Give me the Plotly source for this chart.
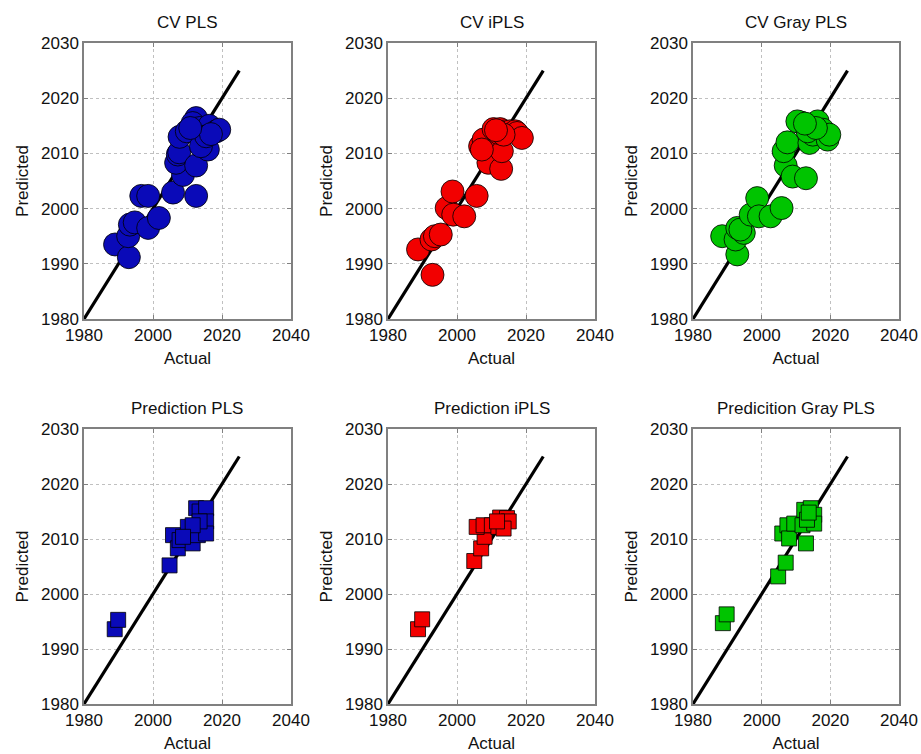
import plotly.graph_objects as go

titles = ["CV PLS", "CV iPLS", "CV Gray PLS", "Prediction PLS", "Prediction iPLS", "Predicition Gray PLS"]
x_ticks = [1980, 2000, 2020, 2040]
y_ticks = [1980, 1990, 2000, 2010, 2020, 2030]
ideal_line = [1980, 2025]

cv_pls_actual = [1989, 1993, 1992.8, 1993.3, 1994.7, 1998.6, 2001.7, 1996.6, 1998.6, 2005.8, 2012.5, 2008.7,
                 2006.7, 2007.2, 2007.6, 2012.5, 2007.7, 2009.8, 2012.5, 2011.5, 2013.5, 2015.9, 2013.9, 2016.3,
                 2018.3, 2019.2, 2015.4, 2016.8, 2010.8]
cv_pls_pred = [1993.5, 1991.2, 1995.0, 1997.1, 1997.5, 1996.5, 1998.3, 2002.3, 2002.3, 2002.9, 2002.3, 2006.1,
               2008.3, 2009.8, 2010.2, 2007.8, 2013.0, 2014.0, 2016.4, 2015.5, 2014.6, 2010.7, 2011.3, 2015.0,
               2014.0, 2014.3, 2013.1, 2013.5, 2014.6]

cv_ipls_actual = [1988.7, 1992.9, 1992.6, 1993.6, 1995.3, 1997.0, 1998.7, 1998.9, 2002.1, 2005.7, 2009.1, 2012.8,
                  2013.0, 2006.7, 2007.7, 2007.2, 2010.6, 2012.5, 2014.0, 2015.4, 2016.9, 2017.4, 2018.8, 2012.0,
                  2013.5, 2011.3]
cv_ipls_pred = [1992.6, 1988.0, 1994.4, 1995.0, 1995.3, 2000.1, 2003.1, 1998.9, 1998.6, 2002.3, 2008.3, 2007.2,
                2010.4, 2011.3, 2012.5, 2010.7, 2014.4, 2014.4, 2014.0, 2014.0, 2014.0, 2013.7, 2012.8, 2013.7,
                2013.4, 2014.2]

cv_gray_actual = [1988.5, 1992.9, 1992.4, 1992.9, 1994.8, 1993.8, 1996.8, 1998.7, 1999.2, 2002.6, 2005.8, 2007.0,
                  2006.4, 2007.5, 2009.0, 2012.9, 2011.4, 2010.4, 2013.9, 2014.9, 2016.3, 2017.8, 2019.2, 2019.7,
                  2013.4, 2015.8, 2012.6]
cv_gray_pred = [1995.0, 1991.7, 1994.4, 1996.5, 1995.6, 1996.2, 1998.9, 2001.9, 1998.6, 1998.6, 2000.1, 2007.8,
                2010.4, 2012.0, 2005.8, 2005.5, 2015.6, 2015.8, 2011.9, 2013.4, 2015.8, 2014.3, 2012.5, 2013.4,
                2014.0, 2014.6, 2015.4]

pr_pls_actual = [1988.9, 1989.9, 2004.8, 2005.8, 2007.2, 2007.7, 2010.1, 2011.5, 2012.5, 2013.0, 2013.5, 2015.4,
                 2015.4, 2015.4, 2013.5, 2011.5, 2008.7]
pr_pls_pred = [1993.6, 1995.3, 2005.2, 2010.7, 2008.3, 2009.8, 2012.2, 2009.2, 2015.6, 2010.7, 2015.0, 2015.6,
               2013.2, 2011.0, 2013.2, 2012.5, 2010.4]

pr_ipls_actual = [1988.7, 1989.9, 2005.0, 2007.0, 2008.0, 2005.7, 2007.7, 2010.1, 2012.0, 2012.5, 2014.5, 2015.0,
                  2013.5, 2011.6]
pr_ipls_pred = [1993.6, 1995.4, 2006.0, 2008.3, 2010.4, 2012.2, 2012.5, 2012.5, 2012.2, 2013.9, 2013.8, 2013.2,
                2011.9, 2013.2]

pr_gray_actual = [1988.7, 1989.8, 2004.8, 2007.0, 2006.0, 2007.5, 2008.0, 2009.5, 2011.9, 2012.9, 2012.4, 2014.3,
                  2015.3, 2015.3, 2013.2, 2013.7]
pr_gray_pred = [1994.7, 1996.3, 2003.2, 2005.7, 2011.0, 2012.5, 2010.1, 2012.8, 2012.5, 2009.2, 2015.3, 2015.6,
                2014.4, 2012.8, 2013.5, 2014.8]

panels = [
    (cv_pls_actual, cv_pls_pred, "circle", "#0a0ab8"),
    (cv_ipls_actual, cv_ipls_pred, "circle", "#f20000"),
    (cv_gray_actual, cv_gray_pred, "circle", "#00c400"),
    (pr_pls_actual, pr_pls_pred, "square", "#0a0ab8"),
    (pr_ipls_actual, pr_ipls_pred, "square", "#f20000"),
    (pr_gray_actual, pr_gray_pred, "square", "#00c400"),
]

W, H = 921, 754
col_px = [(84, 291), (388, 595), (693, 899)]
row_px = [(43, 319), (429, 704)]

fig = go.Figure()
font = dict(family="Liberation Sans, Arial, sans-serif", size=17, color="#111111")

for i, (xa, ya, sym, col) in enumerate(panels):
    r, c = divmod(i, 3)
    n = i + 1
    xname = "x" if n == 1 else f"x{n}"
    yname = "y" if n == 1 else f"y{n}"
    fig.add_trace(go.Scatter(x=ideal_line, y=ideal_line, mode="lines",
                             line=dict(color="black", width=3.2),
                             xaxis=xname, yaxis=yname, showlegend=False, hoverinfo="skip"))
    fig.add_trace(go.Scatter(x=xa, y=ya, mode="markers",
                             marker=dict(symbol=sym, size=23 if sym == "circle" else 15, color=col,
                                         line=dict(color="rgba(0,0,0,0.8)", width=1)),
                             xaxis=xname, yaxis=yname, showlegend=False))
    x0, x1 = col_px[c]
    y0, y1 = row_px[r]
    xd = [x0 / W, x1 / W]
    yd = [1 - y1 / H, 1 - y0 / H]
    axcommon = dict(showgrid=True, gridcolor="#c0c0c0", griddash="dot", gridwidth=1,
                    showline=True, linecolor="#808080", linewidth=1.5, mirror="ticks",
                    ticks="inside", ticklen=4, tickcolor="#808080", zeroline=False,
                    tickfont=font, title_font=font, automargin=False)
    xkey = "xaxis" if n == 1 else f"xaxis{n}"
    ykey = "yaxis" if n == 1 else f"yaxis{n}"
    fig.layout[xkey] = dict(domain=xd, range=[1980, 2040], tickvals=x_ticks, anchor=yname,
                            title=dict(text="Actual", standoff=8), **axcommon)
    fig.layout[ykey] = dict(domain=yd, range=[1980, 2030], tickvals=y_ticks, anchor=xname,
                            title=dict(text="Predicted", standoff=8), **axcommon)
    fig.add_annotation(text=titles[i], x=(xd[0] + xd[1]) / 2, y=yd[1], xref="paper", yref="paper",
                       xanchor="center", yanchor="bottom", yshift=9, showarrow=False, font=font)

fig.update_layout(width=W, height=H, margin=dict(l=0, r=0, t=0, b=0),
                  paper_bgcolor="white", plot_bgcolor="white")
fig.write_html("out.html")
